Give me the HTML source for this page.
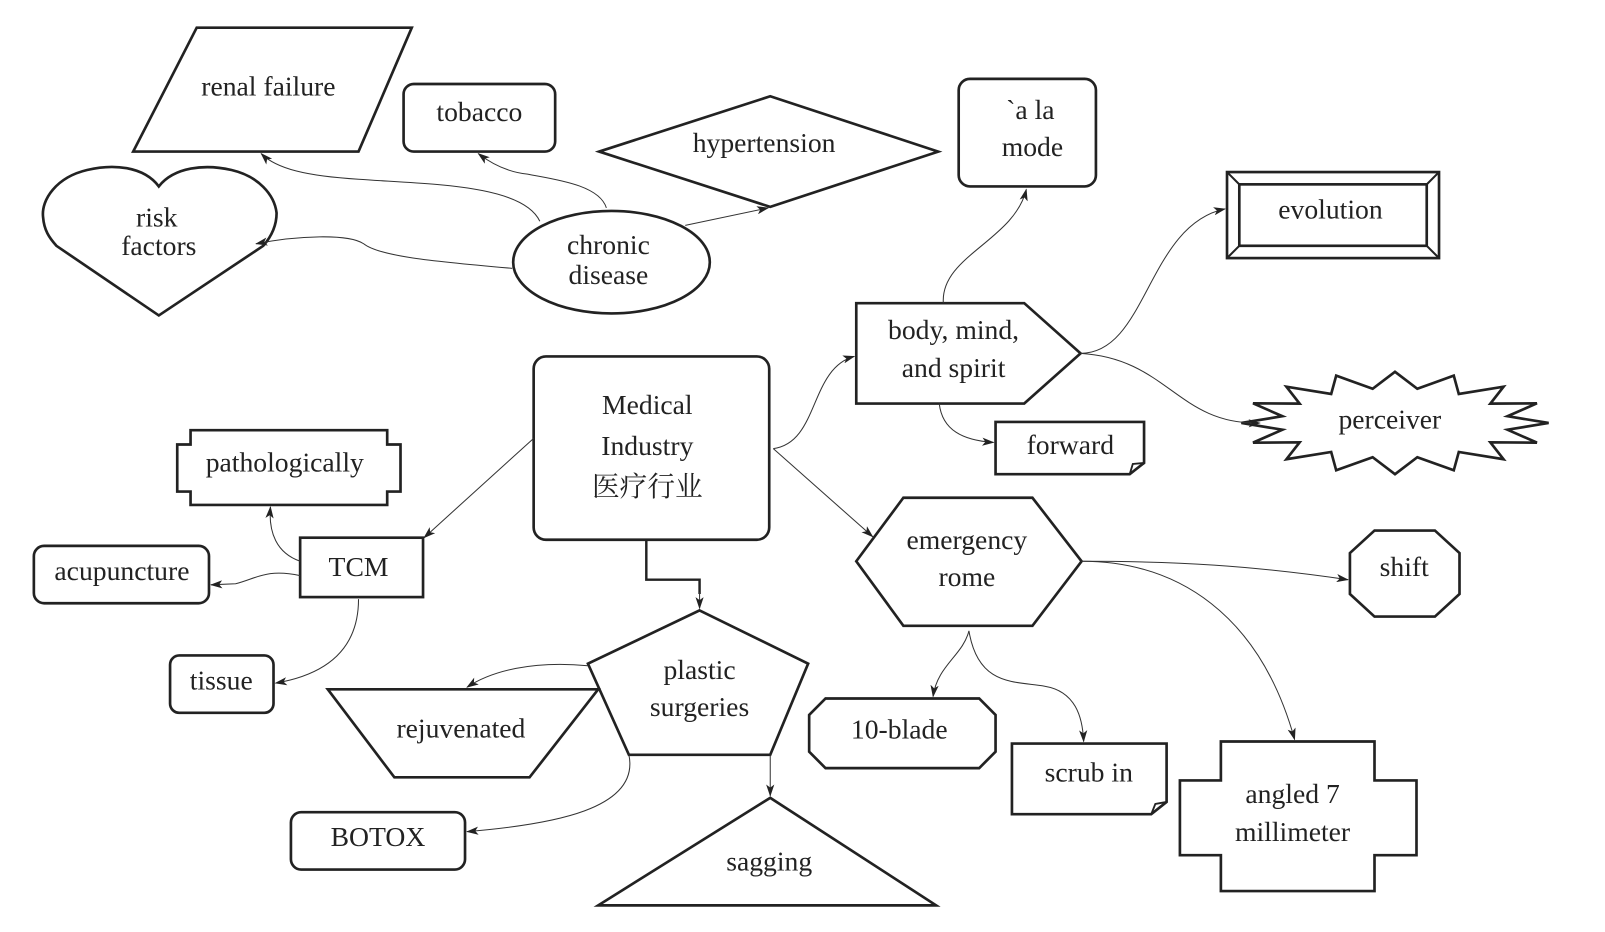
<!DOCTYPE html>
<html><head><meta charset="utf-8"><style>
html,body{margin:0;padding:0;background:#fff;}
svg{display:block;}
text{font-family:"Liberation Serif","Noto Serif CJK SC",serif;font-size:27px;fill:#222;text-anchor:middle;dominant-baseline:middle;}
.s{fill:#fff;stroke:#222;stroke-width:2.6;stroke-linejoin:miter;}
.e{fill:none;stroke:#333;stroke-width:1;marker-end:url(#a);}
</style></head><body>
<svg width="1605" height="932" viewBox="0 0 1567 910" xmlns="http://www.w3.org/2000/svg">
<defs><marker id="a" viewBox="0 0 12 8" refX="11" refY="4" markerWidth="12" markerHeight="8" markerUnits="userSpaceOnUse" orient="auto"><path d="M0,0 L12,4 L0,8 L3,4 Z" fill="#222"/></marker></defs>

<!-- nodes -->
<polygon class="s" points="192,27 402,27 350,148 130,148"/>
<text x="262" y="87">renal failure</text>
<rect class="s" x="394" y="82" width="148" height="66" rx="10"/>
<text x="468" y="112">tobacco</text>
<polygon class="s" points="585,148 752,94 916,148 752,202"/>
<text x="746" y="142">hypertension</text>
<rect class="s" x="936" y="77" width="134" height="105" rx="11"/>
<text x="1006" y="110">`a la</text>
<text x="1008" y="146">mode</text>
<rect class="s" x="1198" y="168" width="207" height="84"/>
<rect class="s" x="1210" y="180" width="183" height="60"/>
<path d="M1198,168 L1210,180 M1405,168 L1393,180 M1198,252 L1210,240 M1405,252 L1393,240" stroke="#222" stroke-width="2"/>
<text x="1299" y="207">evolution</text>
<path class="s" d="M155,182 C140,162 110,160 85,166 C55,173 40,195 42,212 C43,225 48,232 55,240 L155,308 L257,240 C264,232 270,222 270,208 C268,190 252,172 226,166 C200,160 170,163 155,182 Z"/>
<text x="153" y="215">risk</text>
<text x="155" y="243">factors</text>
<ellipse class="s" cx="597" cy="256" rx="96" ry="50"/>
<text x="594" y="242">chronic</text>
<text x="594" y="271">disease</text>
<polygon class="s" points="836,296 1000,296 1055,345 1000,394 836,394"/>
<text x="931" y="325">body, mind,</text>
<text x="931" y="362">and spirit</text>
<path class="s" d="M972,412 L1117,412 L1117,452 L1103,463 L972,463 Z"/>
<path d="M1103,463 L1106,453 L1117,452" fill="none" stroke="#222" stroke-width="1.8"/>
<text x="1045" y="437">forward</text>
<polygon class="s" points="1512,413 1471.9,419.6 1500.6,432.2 1455.1,431.9 1468,448.4 1424.3,441.3 1419.4,459.2 1383.8,446.4 1362,463 1340.2,446.4 1304.6,459.2 1299.7,441.3 1256,448.4 1268.9,431.9 1223.4,432.2 1252.1,419.6 1212,413 1252.1,406.4 1223.4,393.8 1268.9,394.1 1256,377.6 1299.7,384.7 1304.6,366.8 1340.2,379.6 1362,363 1383.8,379.6 1419.4,366.8 1424.3,384.7 1468,377.6 1455.1,394.1 1500.6,393.8 1471.9,406.4"/>
<text x="1357" y="412">perceiver</text>
<rect class="s" x="521" y="348" width="230" height="179" rx="12"/>
<text x="632" y="398">Medical</text>
<text x="632" y="438">Industry</text>
<text x="632" y="478">医疗行业</text>
<polygon class="s" points="186,420 378,420 378,434 391,434 391,480 378,480 378,493 186,493 186,480 173,480 173,434 186,434"/>
<text x="278" y="454">pathologically</text>
<rect class="s" x="293" y="525" width="120" height="58"/>
<text x="350" y="556">TCM</text>
<rect class="s" x="33" y="533" width="171" height="56" rx="10"/>
<text x="119" y="560">acupuncture</text>
<rect class="s" x="166" y="640" width="101" height="56" rx="9"/>
<text x="216" y="667">tissue</text>
<polygon class="s" points="836,548 882,486 1008,486 1056,548 1008,611 882,611"/>
<text x="944" y="530">emergency</text>
<text x="944" y="566">rome</text>
<polygon class="s" points="1342,518 1401,518 1425,540 1425,580 1401,602 1342,602 1318,580 1318,540"/>
<text x="1371" y="556">shift</text>
<polygon class="s" points="683,596 789,648 752,737 614,737 574,648"/>
<text x="683" y="657">plastic</text>
<text x="683" y="693">surgeries</text>
<polygon class="s" points="320,673 584,673 517,759 385,759"/>
<text x="450" y="714">rejuvenated</text>
<rect class="s" x="284" y="793" width="170" height="56" rx="10"/>
<text x="369" y="820">BOTOX</text>
<polygon class="s" points="584,884 914,884 752,779"/>
<text x="751" y="844">sagging</text>
<polygon class="s" points="806,682 956,682 972,698 972,734 956,750 806,750 790,734 790,698"/>
<text x="878" y="715">10-blade</text>
<path class="s" d="M988,726 L1139,726 L1139,783 L1124,795 L988,795 Z"/>
<path d="M1124,795 L1128,785 L1139,783" fill="none" stroke="#222" stroke-width="1.8"/>
<text x="1063" y="757">scrub in</text>
<polygon class="s" points="1192,724 1342,724 1342,762 1383,762 1383,835 1342,835 1342,870 1192,870 1192,835 1152,835 1152,762 1192,762"/>
<text x="1262" y="778">angled 7</text>
<text x="1262" y="815">millimeter</text>

<!-- edges -->
<path class="e" d="M527,216 C510,180 420,180 350,175 C300,172 270,165 255,150"/>
<path class="e" d="M592,203 C585,180 540,175 515,170 C495,168 480,160 467,150"/>
<path class="e" d="M500,262 C420,255 370,250 355,238 C340,228 290,230 250,238"/>
<path class="e" d="M669,220 L750,203"/>
<path class="e" d="M755,438 C800,432 790,360 834,348"/>
<path class="e" d="M755,438 L852,524"/>
<path class="e" d="M521,428 L414,525"/>
<path d="M631,527 L631,566 L683,566 L683,580" fill="none" stroke="#222" stroke-width="2.4"/>
<path class="e" d="M683,578 L683,594"/>
<path class="e" d="M921,296 C918,250 990,235 1002,185"/>
<path class="e" d="M1055,345 C1120,345 1120,220 1196,204"/>
<path class="e" d="M1055,345 C1140,350 1150,415 1230,413"/>
<path class="e" d="M917,394 C920,420 940,430 970,432"/>
<path class="e" d="M1056,548 C1150,548 1220,552 1316,566"/>
<path class="e" d="M1056,548 C1150,548 1230,600 1264,722"/>
<path class="e" d="M946,616 C940,640 915,650 911,680"/>
<path class="e" d="M946,616 C955,670 990,665 1020,670 C1050,675 1057,700 1058,724"/>
<path class="e" d="M293,548 C270,540 262,520 264,495"/>
<path class="e" d="M293,562 C260,555 250,565 230,570 L206,571"/>
<path class="e" d="M350,585 C350,640 310,660 269,667"/>
<path class="e" d="M574,650 C520,645 480,655 456,671"/>
<path class="e" d="M614,737 C625,790 540,805 456,812"/>
<path class="e" d="M752,737 L752,777"/>
</svg>
</body></html>
